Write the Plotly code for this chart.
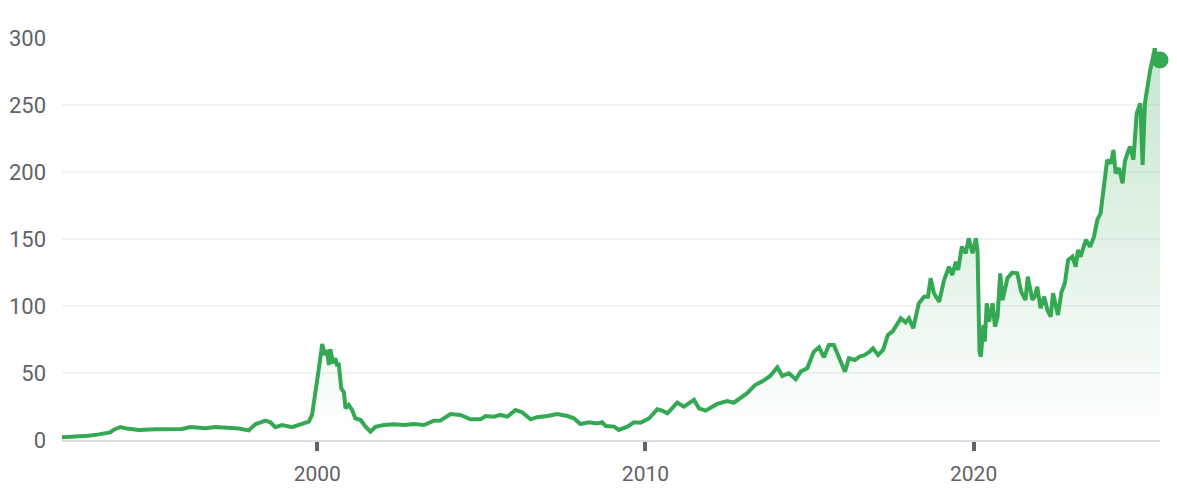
import plotly.graph_objects as go

# ---- data (decimal years, price) ----
years_90s = [1992.22, 1992.63, 1993.03, 1993.34, 1993.69, 1993.79, 1994.00, 1994.20, 1994.56,
             1995.07, 1995.57, 1995.88, 1996.13, 1996.59, 1996.89, 1997.30, 1997.61, 1997.91,
             1998.11, 1998.42, 1998.57, 1998.72, 1998.93, 1999.23, 1999.54, 1999.74, 1999.84, 1999.94]
price_90s = [2.0, 2.5, 3.2, 4.2, 5.7, 7.5, 9.7, 8.5, 7.5,
             8.0, 8.2, 8.2, 9.7, 8.7, 9.7, 9.2, 8.5, 7.2,
             11.7, 14.4, 13.2, 9.5, 11.2, 9.5, 11.9, 13.7, 18.7, 33.6]

years_00s = [2000.04, 2000.15, 2000.23, 2000.30, 2000.35, 2000.40, 2000.48, 2000.55, 2000.61,
             2000.65, 2000.73, 2000.81, 2000.86, 2000.96, 2001.06, 2001.16, 2001.32, 2001.47,
             2001.62, 2001.77, 2002.03, 2002.33, 2002.64, 2002.94, 2003.25, 2003.55, 2003.75,
             2004.06, 2004.36, 2004.67, 2004.97, 2005.13, 2005.38, 2005.58, 2005.79, 2006.04,
             2006.25, 2006.50, 2006.70, 2007.01, 2007.31, 2007.62, 2007.82, 2008.02, 2008.28,
             2008.53, 2008.68, 2008.79, 2009.04, 2009.19, 2009.45, 2009.65, 2009.85]
price_00s = [52.0, 71.6, 63.4, 67.0, 56.0, 67.7, 57.2, 61.0, 55.0,
             57.7, 38.6, 35.6, 23.6, 26.1, 22.4, 16.2, 14.9, 9.9,
             6.2, 9.9, 11.2, 11.7, 11.2, 11.9, 11.2, 14.4, 14.5,
             19.4, 18.7, 15.4, 15.4, 17.9, 17.4, 18.7, 17.4, 22.4,
             20.6, 15.4, 17.0, 17.9, 19.4, 17.9, 16.2, 11.9, 13.2,
             12.4, 13.2, 10.4, 10.0, 7.5, 10.0, 13.2, 12.9]

years_10s = [2010.11, 2010.36, 2010.51, 2010.67, 2010.97, 2011.17, 2011.48, 2011.63, 2011.83,
             2012.19, 2012.49, 2012.69, 2013.09, 2013.34, 2013.60, 2013.80, 2014.02, 2014.17, 2014.37,
             2014.58, 2014.73, 2014.93, 2015.13, 2015.29, 2015.44, 2015.59, 2015.74, 2015.90,
             2016.08, 2016.20, 2016.38, 2016.53, 2016.68, 2016.83, 2016.93, 2017.09, 2017.24,
             2017.39, 2017.54, 2017.78, 2017.93, 2018.03, 2018.16, 2018.33, 2018.49, 2018.61,
             2018.69, 2018.79, 2018.95, 2019.10, 2019.25, 2019.35, 2019.46, 2019.53, 2019.64,
             2019.76, 2019.85, 2019.97]
price_10s = [16.2, 22.9, 21.9, 19.9, 27.9, 24.9, 29.9, 23.6, 21.9,
             26.9, 29.1, 27.8, 34.8, 41.0, 44.3, 47.8, 54.3, 47.8, 49.8,
             45.3, 51.0, 53.5, 65.9, 69.2, 61.7, 70.9, 70.9, 62.2,
             51.0, 61.0, 59.7, 62.2, 63.4, 65.9, 68.4, 63.4, 67.2,
             78.4, 81.3, 90.8, 87.8, 90.8, 83.4, 102.0, 106.9, 106.9,
             120.7, 109.5, 103.2, 119.4, 129.3, 123.1, 133.1, 126.9, 144.3,
             139.3, 150.5, 139.3]

years_20s = [2020.07, 2020.12, 2020.18, 2020.22, 2020.30, 2020.34, 2020.40, 2020.47, 2020.58,
             2020.65, 2020.73, 2020.81, 2020.88, 2021.03, 2021.18, 2021.33, 2021.45,
             2021.58, 2021.65, 2021.79, 2021.86, 2021.94, 2022.04, 2022.15, 2022.25,
             2022.35, 2022.42, 2022.57, 2022.68, 2022.78, 2022.88, 2023.01, 2023.11, 2023.18,
             2023.26, 2023.42, 2023.55, 2023.67, 2023.77, 2023.87, 2023.99, 2024.07,
             2024.18, 2024.26, 2024.33, 2024.43, 2024.54, 2024.61, 2024.69, 2024.77,
             2024.87, 2024.97, 2025.08, 2025.15, 2025.22, 2025.30, 2025.38, 2025.45, 2025.52,
             2025.58, 2025.68]
price_20s = [150.5, 140.5, 65.9, 62.2, 85.8, 73.4, 102.0, 88.3, 102.0,
             84.6, 92.0, 124.4, 104.5, 120.7, 124.9, 124.4, 110.7,
             104.5, 121.9, 104.5, 107.0, 114.4, 98.3, 107.0, 97.0,
             92.0, 109.5, 93.3, 110.7, 117.0, 134.3, 136.8, 129.3, 141.8,
             136.8, 149.3, 144.3, 151.7, 164.2, 169.2, 191.6, 209.0,
             206.5, 216.4, 199.0, 203.0, 191.6, 208.0, 214.0, 219.0,
             209.2, 243.8, 251.3, 205.2, 251.3, 265.0, 276.0, 283.6, 292.3,
             283.6, 283.6]

y_ticks = [0, 50, 100, 150, 200, 250, 300]
x_ticks = [2000, 2010, 2020]
x_tick_labels = ["2000", "2010", "2020"]

years = years_90s + years_00s + years_10s + years_20s
prices = price_90s + price_00s + price_10s + price_20s

GREEN = "#34a853"
GREY = "#5f6368"

fig = go.Figure()
# gradient area under the line
fig.add_trace(go.Scatter(
    x=years, y=prices, mode="lines",
    line=dict(color="rgba(0,0,0,0)", width=0),
    fill="tozeroy",
    fillgradient=dict(type="vertical",
                      colorscale=[[0, "rgba(52,168,83,0)"], [1, "rgba(52,168,83,0.28)"]],
                      start=0, stop=290),
    hoverinfo="skip", showlegend=False,
))
# price line
fig.add_trace(go.Scatter(
    x=years, y=prices, mode="lines",
    line=dict(color=GREEN, width=4),
    hoverinfo="skip", showlegend=False,
))
# last-price dot
fig.add_trace(go.Scatter(
    x=[years[-1]], y=[prices[-1]], mode="markers",
    marker=dict(color=GREEN, size=17, opacity=1, line=dict(width=0)),
    cliponaxis=False, hoverinfo="skip", showlegend=False,
))

# page body adds an 8px offset, so the figure is sized to end at the window edge
fig.update_layout(
    width=1169, height=482,
    margin=dict(l=54, r=17, t=30, b=50, autoexpand=False),
    paper_bgcolor="white", plot_bgcolor="white",
    font=dict(family="Roboto", size=22, color=GREY),
    xaxis=dict(
        range=[1992.22, 2025.68], automargin=False,
        tickmode="array", tickvals=x_ticks, ticktext=x_tick_labels,
        showgrid=False, zeroline=False,
        showline=True, linecolor="#dadce0", linewidth=2,
        ticks="outside", ticklen=9, tickwidth=4, tickcolor=GREY,
        ticklabelstandoff=5,
        tickfont=dict(size=21, color=GREY),
    ),
    yaxis=dict(
        range=[0, 300], automargin=False,
        tickmode="array", tickvals=y_ticks,
        showgrid=True, gridcolor="#f1f3f4", gridwidth=1.5,
        zeroline=False, showline=False,
        ticklabelstandoff=15,
        tickfont=dict(size=22, color=GREY),
    ),
)

fig.write_html("out.html")
